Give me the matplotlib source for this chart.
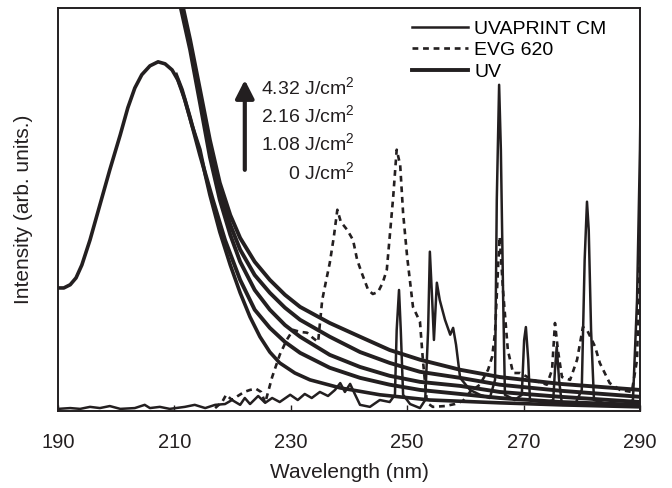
import matplotlib
matplotlib.use("Agg")
import matplotlib.pyplot as plt

plt.rcParams['font.family'] = ['Liberation Sans', 'DejaVu Sans']
plt.rcParams['mathtext.fontset'] = 'custom'
plt.rcParams['mathtext.rm'] = 'Liberation Sans'
plt.rcParams['mathtext.it'] = 'Liberation Sans'

INK = '#231f20'

# UVAPRINT CM lamp spectrum (thin solid, sharp lines)
uvaprint_nm = [190, 192.1, 193.8, 195.5, 197.2, 198.9, 200.7, 203.2, 204.9, 205.8, 207.5,
               209.2, 211.8, 213.5, 215.3, 217.0, 218.7, 219.9, 221.3, 222.1, 223.0, 224.4,
               225.6, 226.8, 228.1, 229.9, 231.2, 232.4, 233.6, 235.0, 236.4, 237.6, 238.5,
               239.3, 240.2, 240.9, 241.9, 243.6, 245.3, 247.0, 247.9, 248.2, 248.6, 248.9,
               249.3, 250.5, 252.2, 253.1, 253.6, 253.9, 254.3, 254.6, 255.1, 255.6, 256.5,
               257.4, 257.9, 258.4, 259.1, 260.8, 262.5, 264.2, 265.1, 265.4, 265.8, 266.1,
               266.5, 266.8, 268.5, 269.7, 270.1, 270.4, 270.8, 271.1, 273.7, 275.1, 275.4,
               275.7, 276.1, 276.6, 278.8, 280.0, 280.5, 280.9, 281.2, 281.6, 282.1, 284.8,
               287.4, 288.8, 289.5, 290.0, 290.3]
uvaprint_int = [0.5, 0.7, 0.5, 1.0, 0.7, 1.2, 0.5, 0.7, 1.5, 0.7, 1.0,
                0.5, 1.0, 1.5, 0.7, 1.5, 1.7, 2.7, 1.5, 3.2, 1.7, 3.7,
                2.0, 3.2, 2.2, 4.0, 2.7, 4.2, 3.2, 4.7, 3.7, 5.2, 6.9,
                4.7, 6.7, 4.5, 1.5, 1.0, 2.7, 2.2, 4.0, 20.1, 30.0, 20.1,
                4.0, 1.7, 0.7, 2.7, 20.1, 39.5, 27.5, 17.6, 31.8, 27.5, 22.6,
                18.9, 20.6, 16.4, 8.2, 5.2, 4.0, 3.2, 7.7, 52.4, 80.9, 64.8,
                27.5, 4.0, 2.7, 4.0, 17.6, 20.8, 12.7, 2.7, 2.0, 2.7, 10.2,
                15.9, 7.7, 1.5, 1.5, 5.2, 37.5, 51.9, 44.9, 20.1, 2.7, 1.5,
                1.5, 2.7, 27.5, 64.8, 100]

# EVG 620 lamp spectrum (dashed)
evg_nm = [217.0, 218.2, 218.9, 219.9, 220.9, 222.0, 223.0, 224.0, 224.9, 225.6, 226.8,
          228.1, 229.3, 230.4, 231.6, 232.8, 233.8, 234.7, 235.4, 236.0, 236.7, 237.4,
          238.0, 238.6, 239.7, 240.7, 241.4, 242.2, 243.3, 244.1, 245.0, 245.8, 246.5,
          247.0, 247.6, 248.2, 248.8, 249.3, 250.0, 251.0, 252.2, 252.7, 253.4, 254.4,
          256.5, 258.2, 259.6, 260.8, 262.5, 263.9, 264.6, 265.1, 265.6, 265.9, 266.5,
          267.3, 268.2, 269.4, 271.6, 274.0, 274.9, 275.4, 275.9, 276.6, 278.0, 279.2,
          280.2, 280.9, 282.3, 283.1, 284.8, 286.6, 288.6, 289.5, 290.0, 290.3]
evg_int = [0.7, 2.2, 4.0, 2.7, 3.7, 4.7, 5.2, 5.5, 4.7, 2.0, 8.4,
           13.9, 17.6, 20.1, 19.6, 19.4, 18.1, 17.1, 27.5, 31.8, 36.7, 43.2,
           49.9, 46.9, 44.9, 42.4, 37.5, 34.2, 30.0, 29.0, 29.5, 31.8, 35.0,
           43.2, 53.1, 64.8, 61.0, 49.1, 38.2, 25.8, 22.1, 12.7, 2.0, 1.0,
           1.2, 1.7, 2.5, 4.7, 6.5, 10.2, 13.4, 19.4, 35.0, 43.2, 29.3,
           15.1, 9.4, 9.4, 7.7, 6.5, 10.2, 21.8, 15.1, 8.4, 7.7, 12.7,
           20.8, 20.1, 15.9, 11.9, 6.9, 5.2, 4.7, 12.7, 40.7, 64.8]

# broad band with maximum near 208 nm
broad_nm = [190, 191.0, 192.1, 193.1, 194.1, 195.5, 197.2, 198.9, 200.7, 202.0, 203.2,
            204.4, 205.8, 207.2, 208.4, 209.6, 210.6, 211.8, 213.0, 214.4, 215.3, 216.1,
            217.8, 219.6, 221.3, 223.0, 224.7, 226.4, 228.1, 230.7, 233.3, 238.5, 245.3,
            253.9, 265.9, 276.3, 290]
broad_int = [30.5, 30.5, 31.3, 33.0, 36.2, 42.4, 51.1, 59.8, 68.5, 75.2, 80.1,
             83.4, 85.6, 86.6, 86.1, 84.6, 82.1, 77.2, 71.0, 64.8, 58.6, 53.6,
             44.4, 36.2, 29.3, 23.3, 18.4, 14.6, 11.9, 9.4, 7.7, 5.7, 4.0,
             2.7, 2.0, 1.5, 1.0]

# UV exposure series (thick solid)
uv_nm = [212.7, 214.4, 216.1, 217.8, 219.6, 221.3, 223.8, 226.4, 229.0, 231.6, 236.7,
         241.9, 247.0, 252.2, 259.1, 265.9, 276.3, 290]
uv_432 = [92.1, 79.7, 67.2, 56.6, 48.6, 42.9, 37.0, 32.5, 28.8, 25.8, 21.8,
          18.4, 15.1, 12.7, 10.2, 8.4, 6.7, 5.2]
uv_216 = [90.8, 77.9, 65.3, 54.3, 46.2, 40.0, 33.7, 29.3, 25.6, 22.6, 18.4,
          14.6, 11.9, 9.7, 8.2, 6.5, 5.0, 3.5]
uv_108 = [89.6, 76.4, 63.0, 52.4, 43.7, 37.0, 30.0, 25.1, 21.3, 18.4, 13.9,
          10.9, 8.7, 7.2, 6.2, 4.7, 3.5, 2.2]
uv_start_nm = [211.5, 211.3, 211.1]
uv_0_nm = [210.3, 211.3, 212.7, 214.4, 216.6, 218.7, 221.3, 223.8, 226.4, 229.0, 231.6,
           236.7, 241.9, 247.0, 252.2, 259.1, 265.9, 276.3, 290]
uv_0 = [83.4, 79.7, 72.7, 63.5, 52.4, 42.4, 32.5, 25.1, 20.6, 17.1, 14.4,
        10.7, 8.2, 6.5, 5.2, 4.2, 3.2, 2.2, 1.5]

dose_labels = [r'4.32 J/cm$^2$', r'2.16 J/cm$^2$', r'1.08 J/cm$^2$', r'0 J/cm$^2$']
x_ticks = [190, 210, 230, 250, 270, 290]

fig = plt.figure(figsize=(6.72, 4.88), dpi=100)
ax = fig.add_axes([0.0863, 0.158, 0.866, 0.826])

ax.plot(uvaprint_nm, uvaprint_int, color=INK, lw=1.8, label='UVAPRINT CM')
ax.plot(evg_nm, evg_int, color=INK, lw=1.9, linestyle=(0, (2.2, 1.8)), label='EVG 620')
ax.plot(broad_nm, broad_int, color=INK, lw=2.6)
uv_curves = [uv_432, uv_216, uv_108]
for i, (x0, curve) in enumerate(zip(uv_start_nm, uv_curves)):
    ax.plot([x0] + uv_nm, [100] + curve, color=INK, lw=2.8,
            label='UV' if i == 0 else None)
ax.plot(uv_0_nm, uv_0, color=INK, lw=2.8)

ax.set_xlim(190, 290)
ax.set_ylim(0, 100)
ax.set_xticks(x_ticks)
ax.set_yticks([])
ax.tick_params(axis='x', direction='in', length=4, width=1, pad=16, labelsize=14.5,
               colors=INK, labelcolor=INK)
for s in ax.spines.values():
    s.set_linewidth(1.4)
    s.set_color(INK)

ax.set_xlabel('Wavelength (nm)', fontsize=15, color=INK, labelpad=8)
ax.set_ylabel('Intensity (arb. units.)', fontsize=15, color=INK, labelpad=18)

ax.legend(loc='upper left', bbox_to_anchor=(0.608, 0.97), frameon=False,
          fontsize=14, handlelength=2.9, handletextpad=0.3, labelspacing=0.2,
          borderpad=0, borderaxespad=0)

# dose arrow and labels
ax.annotate('', xy=(0.321, 0.821), xytext=(0.321, 0.598), xycoords='axes fraction',
            arrowprops=dict(arrowstyle='-|>,head_length=0.55,head_width=0.28',
                            lw=3, color=INK, mutation_scale=20, shrinkA=0, shrinkB=0))
for i, lab in enumerate(dose_labels):
    ax.text(0.510, 0.804 - i * 0.0705, lab, transform=ax.transAxes, ha='right',
            va='center', fontsize=14, color=INK)

fig.savefig('out.png', dpi=100)
